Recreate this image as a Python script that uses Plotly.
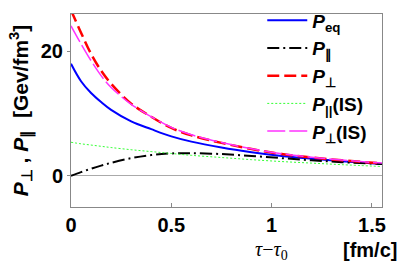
import plotly.graph_objects as go

# time since tau0 [fm/c]
tau = [0.0, 0.05, 0.1, 0.15, 0.2, 0.3, 0.4, 0.5, 0.6, 0.75, 0.9, 1.05, 1.2, 1.35, 1.55]

p_eq      = [18.0, 15.2, 13.3, 11.85, 10.6, 8.75, 7.5, 6.35, 5.5, 4.55, 3.8, 3.2, 2.75, 2.35, 1.9]
p_par     = [0.0, 0.6, 1.15, 1.65, 2.1, 2.85, 3.35, 3.6, 3.65, 3.5, 3.2, 2.85, 2.5, 2.2, 1.9]
p_perp    = [26.6, 23.0, 19.6, 16.9, 14.8, 11.6, 9.5, 7.7, 6.5, 5.3, 4.3, 3.5, 2.95, 2.5, 2.0]
p_par_is  = [5.4, 5.15, 4.95, 4.75, 4.55, 4.2, 3.9, 3.6, 3.3, 2.95, 2.6, 2.3, 2.05, 1.8, 1.5]
p_perp_is = [24.1, 21.2, 18.5, 16.1, 14.2, 11.5, 9.5, 7.8, 6.6, 5.35, 4.35, 3.55, 3.0, 2.55, 2.05]

names = ["<b><i>P</i><sub>eq</sub></b>",
         "<b><i>P</i><sub>∥</sub></b>",
         "<b><i>P</i><sub>⊥</sub></b>",
         "<b><i>P</i><sub>||</sub>(IS)</b>",
         "<b><i>P</i><sub>⊥</sub>(IS)</b>"]

FONT = "Liberation Sans, Arial, sans-serif"

fig = go.Figure()
fig.add_trace(go.Scatter(x=tau, y=p_eq, mode="lines", name=names[0],
                         line=dict(color="#0000ff", width=2, shape="spline")))
fig.add_trace(go.Scatter(x=tau, y=p_par, mode="lines", name=names[1],
                         line=dict(color="black", width=2, dash="12px,4px,2px,4px", shape="spline")))
fig.add_trace(go.Scatter(x=tau, y=p_perp, mode="lines", name=names[2],
                         line=dict(color="#ff0000", width=2.5, dash="12px,5px", shape="spline")))
fig.add_trace(go.Scatter(x=tau, y=p_par_is, mode="lines", name=names[3],
                         line=dict(color="#33ff33", width=1, dash="2px,2px", shape="spline")))
fig.add_trace(go.Scatter(x=tau, y=p_perp_is, mode="lines", name=names[4],
                         line=dict(color="#ff33ff", width=1.5, dash="18px,4px", shape="spline")))

fig.update_layout(
    width=399, height=270,
    margin=dict(l=71, r=17, t=1, b=63),
    plot_bgcolor="white", paper_bgcolor="white",
    font=dict(family=FONT, color="black"),
    showlegend=True,
    legend=dict(x=0.615, y=1.065, xanchor="left", yanchor="top",
                bgcolor="rgba(0,0,0,0)", font=dict(size=19),
                tracegroupgap=0, itemwidth=40, maxheight=400),
    xaxis=dict(range=[0, 1.55], tickvals=[0, 0.5, 1, 1.5],
               ticktext=["<b>0</b>", "<b>0.5</b>", "<b>1</b>", "<b>1.5</b>"],
               showline=True, mirror=True, linecolor="#888888", linewidth=1,
               ticks="inside", ticklen=4, tickcolor="#888888",
               showgrid=False, zeroline=False, tickfont=dict(size=20),
               automargin=False),
    yaxis=dict(range=[-5, 26], tickvals=[0, 20], ticktext=["<b>0</b>", "<b>20</b>"],
               showline=True, mirror=True, linecolor="#888888", linewidth=1,
               ticks="outside", ticklen=3, tickcolor="#888888",
               showgrid=False, zeroline=True, zerolinecolor="#aaaaaa", zerolinewidth=1,
               tickfont=dict(size=20), automargin=False,
               title=dict(text="<b><i>P</i><sub>⊥</sub> , <i>P</i><sub>∥</sub>  [Gev/fm<sup>3</sup>]</b>",
                          font=dict(size=21), standoff=6)),
)

fig.add_annotation(xref="paper", yref="paper", x=0.585, y=-0.225, xanchor="left", yanchor="middle",
                   showarrow=False,
                   text="<i>τ</i>−<i>τ</i><sub>0</sub>",
                   font=dict(size=20, family="Liberation Serif, serif"))
fig.add_annotation(xref="paper", yref="paper", x=1.055, y=-0.225, xanchor="right", yanchor="middle",
                   showarrow=False,
                   text="<b>[fm/c]</b>",
                   font=dict(size=20, family=FONT))

fig.write_html("out.html", config={"displayModeBar": False},
               post_script="document.body.style.margin='0px';")
